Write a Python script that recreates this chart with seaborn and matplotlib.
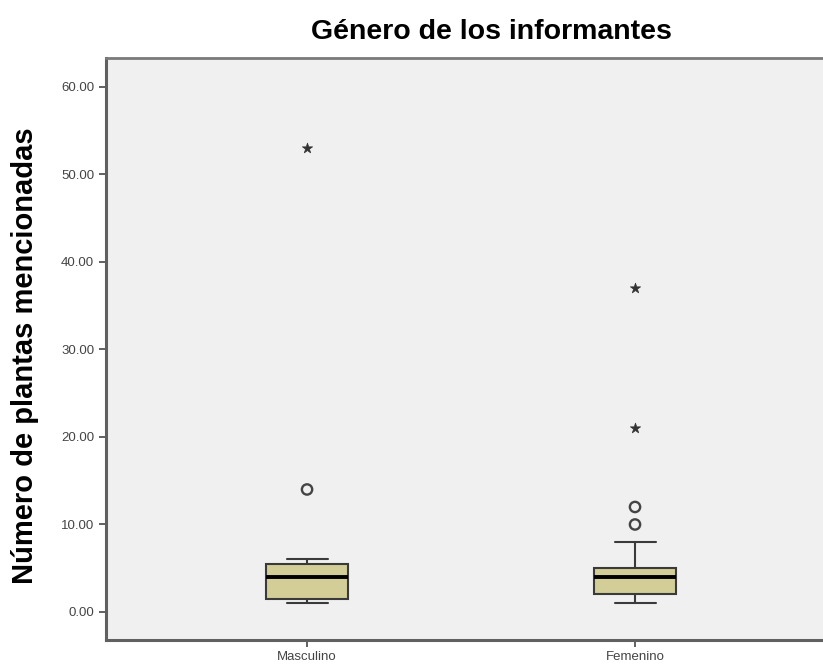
import numpy as np
import pandas as pd
import matplotlib
matplotlib.use("Agg")
import matplotlib.pyplot as plt
import seaborn as sns

# ---- data ----
categories = ["Masculino", "Femenino"]
masculino = [1, 1, 1, 1, 2, 3, 4, 4, 5, 5, 5, 6, 6, 14, 53]
femenino = [1, 1, 2, 2, 2, 2, 2, 2, 3, 3, 4, 4, 4, 4, 4, 4, 5, 5, 5, 5, 5, 5,
            6, 7, 8, 10, 12, 21, 37]
yticks = [0, 10, 20, 30, 40, 50, 60]
title = "Género de los informantes"
ylabel = "Número de plantas mencionadas"

df = pd.DataFrame({
    "genero": [categories[0]] * len(masculino) + [categories[1]] * len(femenino),
    "plantas": masculino + femenino,
})

sns.set_style("white")
plt.rcParams["font.family"] = ["Liberation Sans", "DejaVu Sans"]

fig = plt.figure(figsize=(8.23, 6.66), dpi=100)
ax = fig.add_axes([106 / 823, 26 / 666, 1 - 106 / 823, (640 - 58) / 666])
ax.set_facecolor("#F0F0F0")

sns.boxplot(data=df, x="genero", y="plantas", order=categories, ax=ax,
            width=0.25, color="#D3CE97", linecolor="#3a3a3a", linewidth=1.5,
            showfliers=False, saturation=1,
            medianprops={"color": "black", "linewidth": 2.8})

# outliers (circles) and extremes (stars) as SPSS shows them
out_x, out_y, ext_x, ext_y = [], [], [], []
for i, vals in enumerate([masculino, femenino]):
    v = np.array(vals, dtype=float)
    q1, q3 = np.percentile(v, [25, 75])
    iqr = q3 - q1
    for val in v:
        if val > q3 + 3 * iqr or val < q1 - 3 * iqr:
            ext_x.append(categories[i]); ext_y.append(val)
        elif val > q3 + 1.5 * iqr or val < q1 - 1.5 * iqr:
            out_x.append(categories[i]); out_y.append(val)

sns.scatterplot(x=out_x, y=out_y, ax=ax, marker="o", s=55, facecolor="none",
                edgecolor="#444444", linewidth=1.7, zorder=5)
sns.scatterplot(x=ext_x, y=ext_y, ax=ax, marker="*", s=60, color="#333333",
                edgecolor="#333333", linewidth=0.5, zorder=5)

ax.set_xlim(-0.613, 1 + (823 - 635) / 328)
ax.set_ylim(-3.2, 63.3)
ax.set_yticks(yticks)
ax.set_yticklabels([f"{t:.2f}" for t in yticks])

for side in ["left", "bottom"]:
    ax.spines[side].set_visible(True)
    ax.spines[side].set_color("#606060")
    ax.spines[side].set_linewidth(2.2)
ax.spines["top"].set_visible(True)
ax.spines["top"].set_color("#7a7a7a")
ax.spines["top"].set_linewidth(2.0)
ax.spines["right"].set_visible(False)

ax.tick_params(axis="both", which="both", direction="out", length=5, width=1.3,
               color="#555555", labelcolor="#444444", labelsize=9.5,
               left=True, bottom=True)
ax.tick_params(axis="x", labelsize=9.5, pad=3)

ax.set_xlabel("")
ax.set_ylabel(ylabel, fontsize=21, fontweight="bold", color="black")
ax.yaxis.set_label_coords((39 - 106) / 717, (640 - 356) / 582)
fig.text(491 / 823, 1 - 32 / 666, title, ha="center", va="center",
         fontsize=20.5, fontweight="bold", color="black")

fig.savefig("out.png", dpi=100, facecolor="white")
